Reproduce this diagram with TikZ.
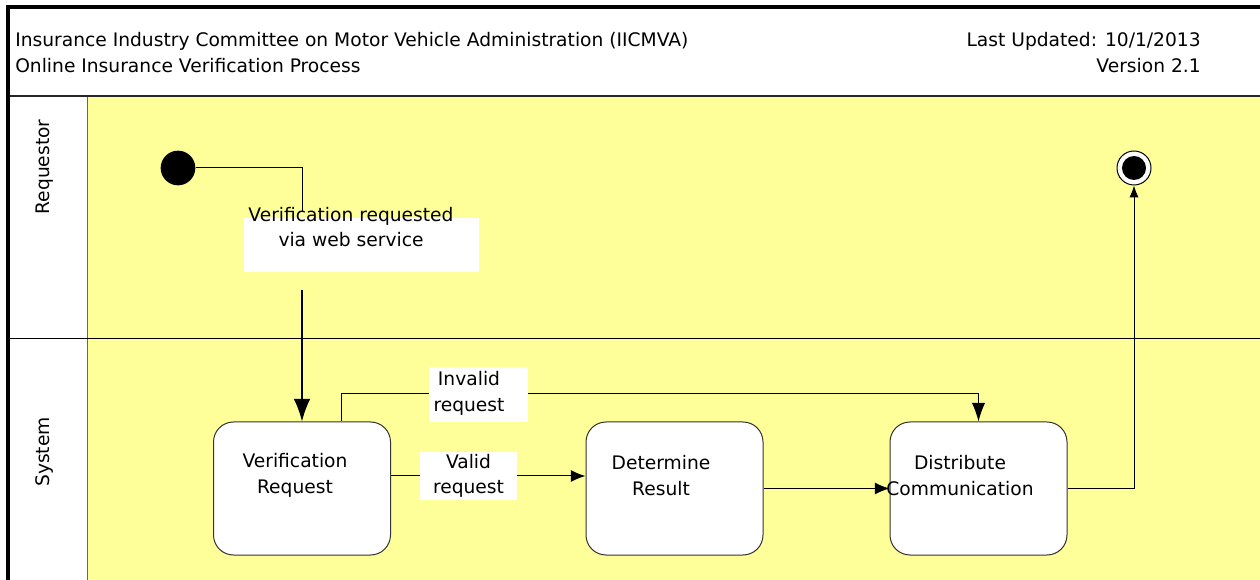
\documentclass[tikz,border=0pt]{standalone}
\usepackage{fontspec}
\setmainfont{DejaVu Sans}
\usetikzlibrary{arrows.meta}
\definecolor{lane}{HTML}{FFFF99}
\tikzset{
  act/.style={draw=black!80,line width=0.75pt,fill=white,rounded corners=15pt,minimum width=132.75pt,minimum height=99.75pt,inner sep=0pt},
  txt/.style={inner sep=0pt,align=center,font=\fontsize{14}{19}\selectfont},
  lbl/.style={fill=white,inner sep=0pt},
  flow/.style={draw=black,line width=0.75pt,-{Latex[length=11pt,width=9pt]}}
}
\begin{document}
\begin{tikzpicture}[x=0.75pt,y=-0.75pt]
\useasboundingbox (0,0) rectangle (1260,580);
\clip (0,0) rectangle (1260,580);
\fill[white](0,0)rectangle(1260,580);
\fill[lane](87,96)rectangle(1270,590);
\draw[black!60,line width=0.75pt](87,96)--(87,590);
\draw[black!85,line width=1.3pt](8,96)--(1270,96);
\draw[black,line width=0.75pt](8,339)--(1270,339);
\draw[black,line width=3pt](8,7)rectangle(1275,600);
\node[txt,anchor=west,align=left,font=\fontsize{14}{19.5}\selectfont](title)at(15,53){Insurance Industry Committee on Motor Vehicle Administration (IICMVA)\\Online Insurance Verification Process};
\node[txt,anchor=east,align=right,font=\fontsize{14}{19.5}\selectfont](ver)at(1201,53){Last Updated: 10/1/2013\\Version 2.1};
\node[txt,rotate=90](req)at(45,167){Requestor};
\node[txt,rotate=90](sys)at(45,452){System};
\node[circle,fill=black,minimum size=26pt,inner sep=0pt](ini)at(178,168){};
\node[circle,draw=black,line width=0.75pt,fill=white,minimum size=25.5pt,inner sep=0pt,
  path picture={\fill[black](path picture bounding box.center)circle(9pt);}](fin)at(1134,168){};
\node[act](vr)at(302,488.5){};
\node[act](dr)at(674.5,488.5){};
\node[act](dc)at(978.5,488.5){};
\node[txt](vrt)at(295,475.5){Verification\\Request};
\node[txt](drt)at(661,475.5){Determine\\Result};
\node[txt](dct)at(960,475.5){Distribute\\Communication};
\coordinate(reqtop)at(302,212);
\coordinate(reqbot)at(302,290);
\coordinate(inv)at(341,394);
\draw[black,line width=0.75pt](ini)-|(reqtop);
\draw[flow,line width=1.1pt,-{Latex[length=17pt,width=12.5pt]}](reqbot)--(vr.north);
\draw[flow,-{Latex[length=14pt,width=10pt]}](vr.north-|inv)|-(dc.north|-inv)--(dc.north);
\draw[flow](vr.east|-0,476)--(dr.west|-0,476);
\draw[flow](dr.east)--(dc.west);
\draw[flow,-{Latex[length=9pt,width=7pt]}](dc.east)-|(fin.south);
\node[lbl,minimum width=176.25pt,minimum height=40.5pt](reqbox)at(361.5,245){};
\node[txt](reqlbl)at(351,227){Verification requested\\via web service};
\node[lbl,minimum width=74.25pt,minimum height=41.25pt](invbox)at(478.5,394.5){};
\node[txt](invlbl)at(469,393.5){Invalid\\request};
\node[lbl,txt,fill=white,minimum width=72.75pt,minimum height=36pt](valid)at(468.5,476){Valid\\request};
\end{tikzpicture}
\end{document}
